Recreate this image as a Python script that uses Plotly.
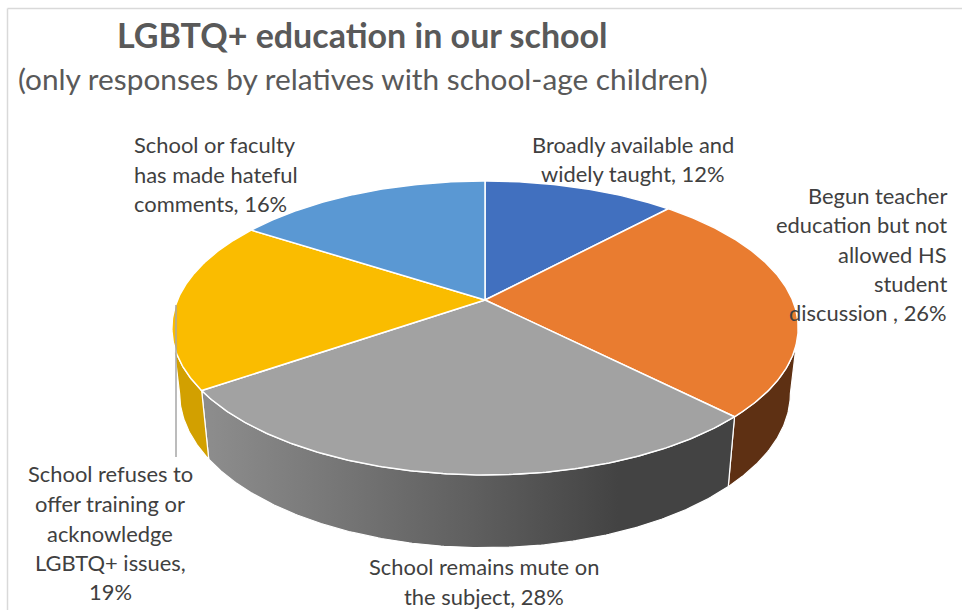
import numpy as np
import plotly.graph_objects as go

# Survey shares
categories = [
    "Broadly available and widely taught",
    "Begun teacher education but not allowed HS student discussion",
    "School remains mute on the subject",
    "School refuses to offer training or acknowledge LGBTQ+ issues",
    "School or faculty has made hateful comments",
]
shares = [12, 26, 28, 19, 16]

# Label text, one entry per rendered line
label_lines = [
    ["Broadly available and", "widely taught, 12%"],
    ["Begun teacher", "education but not", "allowed HS", "student", "discussion , 26%"],
    ["School remains mute on", "the subject, 28%"],
    ["School refuses to", "offer training or", "acknowledge", "LGBTQ+ issues,", "19%"],
    ["School or faculty", "has made hateful", "comments, 16%"],
]
title_text = "LGBTQ+ education in our school"
subtitle_text = "(only responses by relatives with school-age children)"

top_colors = ["#4170BF", "#E97C30", "#A2A2A2", "#FABC00", "#5A98D3"]
wall_colors = {1: "#5E3013", 3: "#D2A000"}
wall_gradient = [[0, "#8C8C8C"], [0.5, "#5F5F5F"], [0.78, "#434343"], [1, "#434343"]]

# Tilted disc: a circle under a perspective divide, painted in pixel space
CX, CY = 485.0, 300.0
RX, RY, PERSP = 307.5, 141.7, 0.19
RIM_X, RIM_Y, RIM_DY = 0.975, 1.05, 64.0
FONT = "Lato"


def rim(theta_deg):
    t = np.radians(theta_deg)
    u, v = np.sin(t), np.cos(t)
    w = 1 + PERSP * v
    return CX + RX * u / w, CY - RY * v / w


def lower_rim(theta_deg):
    x, y = rim(theta_deg)
    return CX + (x - CX) * RIM_X, CY + (y - CY) * RIM_Y + RIM_DY


def arc(start, stop):
    return np.linspace(start, stop, max(int(abs(stop - start) * 2), 2))


edges = np.concatenate([[0], np.cumsum(shares)]) / sum(shares) * 360
LEFT_TANGENT, RIGHT_TANGENT = 259.0, 101.0

fig = go.Figure()


def wall(start, stop, **style):
    a = arc(start, stop)
    xt, yt = rim(a)
    xb, yb = lower_rim(a[::-1])
    fig.add_trace(go.Scatter(
        x=np.concatenate([xt, xb, xt[:1]]), y=np.concatenate([yt, yb, yt[:1]]),
        mode="lines", fill="toself", hoverinfo="skip",
        line=dict(color="white", width=1.2), **style,
    ))


# Side walls, visible only on the near half of the disc
wall(RIGHT_TANGENT, edges[2], fillcolor=wall_colors[1])
wall(edges[2], edges[3], fillgradient=dict(
    type="horizontal", colorscale=wall_gradient, start=212, stop=733))
wall(edges[3], LEFT_TANGENT, fillcolor=wall_colors[3])

# Top face wedges
for i, name in enumerate(categories):
    a = arc(edges[i], edges[i + 1])
    xs, ys = rim(a)
    fig.add_trace(go.Scatter(
        x=np.concatenate([[CX], xs, [CX]]), y=np.concatenate([[CY], ys, [CY]]),
        mode="lines", fill="toself", fillcolor=top_colors[i], name=name,
        hoverinfo="name", line=dict(color="white", width=1.5),
    ))

# Leader line from the refuses-training slice to its label
fig.add_trace(go.Scatter(
    x=[176, 176], y=[305, 457], mode="lines", hoverinfo="skip",
    line=dict(color="#A6A6A6", width=1.5),
))

annotations = []


def put(text, x, y, size, color, anchor="center", bold=False):
    annotations.append(dict(
        text=f"<b>{text}</b>" if bold else text, x=x, y=y, xref="x", yref="y",
        xanchor=anchor, yanchor="middle", showarrow=False,
        font=dict(family=FONT, size=size, color=color),
    ))


put(title_text, 115, 34.5, 34, "#595959", "left", bold=True)
put(subtitle_text, 16, 78.5, 29.8, "#595959", "left")

placements = [
    (633, [144, 173], "center"),
    (949, [195, 224, 254, 283, 312], "right"),
    (484, [566, 596], "center"),
    (110, [473, 503, 533, 562, 591], "center"),
    (132, [144, 174, 203], "left"),
]
for lines, (x, ys, anchor) in zip(label_lines, placements):
    for line, y in zip(lines, ys):
        put(line, x, y, 21.9, "#404040", anchor)

frame = dict(type="line", xref="x", yref="y", line=dict(color="#D9D9D9", width=1.5))
fig.update_layout(
    width=962, height=610, margin=dict(l=0, r=0, t=0, b=0),
    paper_bgcolor="white", plot_bgcolor="white", showlegend=False,
    xaxis=dict(range=[0, 962], visible=False, fixedrange=True),
    yaxis=dict(range=[610, 0], visible=False, fixedrange=True),
    annotations=annotations,
    shapes=[
        dict(frame, x0=7.5, x1=962, y0=8.5, y1=8.5),
        dict(frame, x0=7.5, x1=7.5, y0=8.5, y1=610),
    ],
)
fig.write_html("out.html", config=dict(displayModeBar=False))
